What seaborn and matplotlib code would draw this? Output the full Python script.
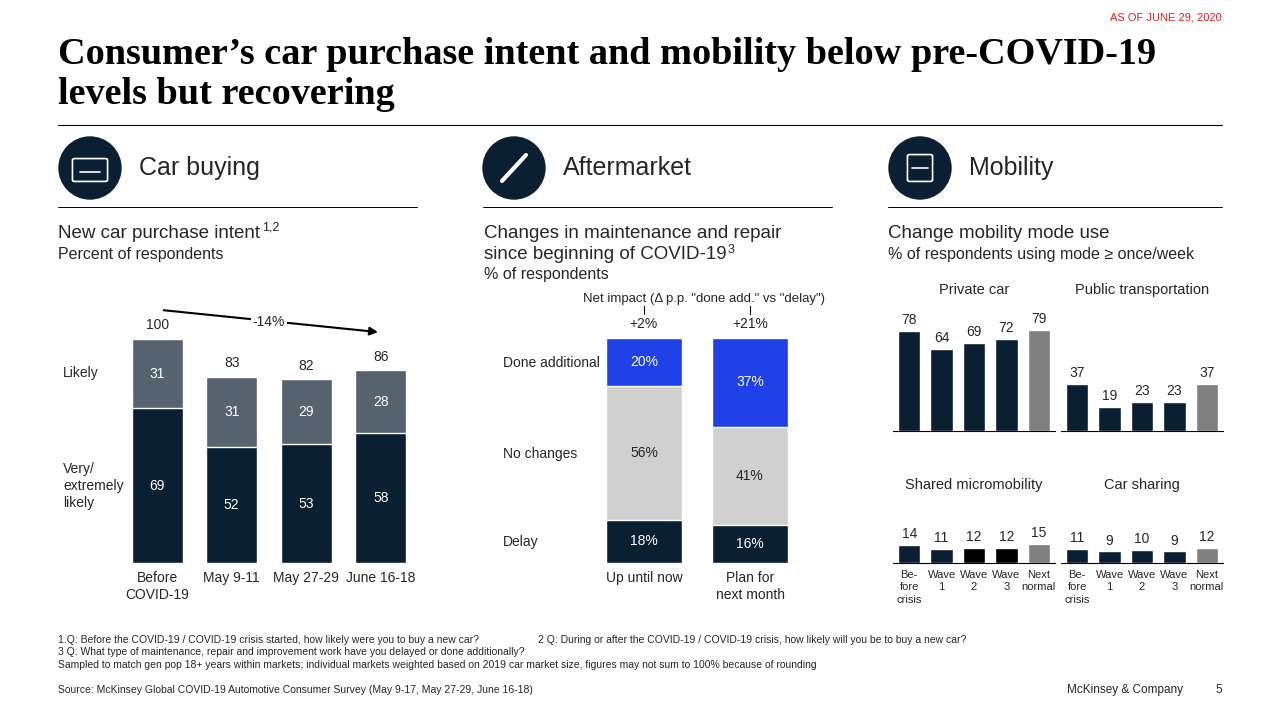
import matplotlib.pyplot as plt
import matplotlib.patches as mpatches
import seaborn as sns
import pandas as pd

# ---- data ----
buy_periods = ["Before\nCOVID-19", "May 9-11", "May 27-29", "June 16-18"]
buy_very_likely = [69, 52, 53, 58]
buy_likely = [31, 31, 29, 28]
buy_total = [100, 83, 82, 86]

am_periods = ["Up until now", "Plan for\nnext month"]
am_delay = [18, 16]
am_no_change = [56, 41]
am_done_add = [20, 37]
am_net = ["+2%", "+21%"]

mob_waves = ["Be-\nfore\ncrisis", "Wave\n1", "Wave\n2", "Wave\n3", "Next\nnormal"]
private_car = [78, 64, 69, 72, 79]
public_transport = [37, 19, 23, 23, 37]
micromobility = [14, 11, 12, 12, 15]
car_sharing = [11, 9, 10, 9, 12]

NAVY = "#0b1f33"
SLATE = "#56626e"
BLUE = "#1f40e6"
LIGHT = "#d0d0d0"
NEXT = "#808080"

sns.set_theme(style="white")
plt.rcParams["font.family"] = ["Liberation Sans", "DejaVu Sans"]

fig = plt.figure(figsize=(12.8, 7.2), dpi=100)
W, H = 1280, 720


def ax_px(l, t, r, b):
    ax = fig.add_axes([l / W, 1 - b / H, (r - l) / W, (b - t) / H])
    ax.set_facecolor("none")
    return ax


def ftext(x, y, s, **kw):
    fig.text(x / W, 1 - y / H, s, **kw)


def hline(x0, x1, y, color="black", lw=0.8):
    fig.add_artist(plt.Line2D([x0 / W, x1 / W], [1 - y / H, 1 - y / H], color=color, lw=lw))


def clean(ax, bottom=True):
    for s in ["top", "right", "left"]:
        ax.spines[s].set_visible(False)
    ax.spines["bottom"].set_visible(bottom)
    ax.spines["bottom"].set_color("black")
    ax.spines["bottom"].set_linewidth(0.8)
    ax.set_yticks([])
    ax.set_xlabel("")
    ax.set_ylabel("")


# ---- header ----
ftext(1222, 17, "AS OF JUNE 29, 2020", ha="right", va="center", fontsize=8, color="#e0201b")
ftext(58, 54, "Consumer’s car purchase intent and mobility below pre-COVID-19", fontsize=27.5,
      fontweight="bold", family="Liberation Serif", va="center", color="black")
ftext(58, 95, "levels but recovering", fontsize=27.5, fontweight="bold", family="Liberation Serif",
      va="center", color="black")
hline(58, 1222, 125)

for cx, label in [(90, "Car buying"), (514, "Aftermarket"), (920, "Mobility")]:
    fig.add_artist(mpatches.Ellipse((cx / W, 1 - 168 / H), 62 / W, 62 / H, color=NAVY,
                                    transform=fig.transFigure))
    ftext(cx + 49, 168, label, fontsize=18, va="center")
for x0, x1 in [(58, 417), (483, 832), (888, 1222)]:
    hline(x0, x1, 207, lw=0.7)

# simple icon glyphs drawn as shapes
fig.add_artist(mpatches.FancyBboxPatch((75 / W, 1 - 180 / H), 30 / W, 20 / H, boxstyle="round,pad=0.002",
                                       fill=False, ec="white", lw=1.2, transform=fig.transFigure))
fig.add_artist(plt.Line2D([80 / W, 100 / W], [1 - 172 / H, 1 - 172 / H], color="white", lw=1.2))
fig.add_artist(plt.Line2D([502 / W, 526 / W], [1 - 181 / H, 1 - 155 / H], color="white", lw=3))
fig.add_artist(mpatches.FancyBboxPatch((910 / W, 1 - 180 / H), 20 / W, 24 / H, boxstyle="round,pad=0.002",
                                       fill=False, ec="white", lw=1.2, transform=fig.transFigure))
fig.add_artist(plt.Line2D([912 / W, 928 / W], [1 - 168 / H, 1 - 168 / H], color="white", lw=1.2))

# ---- Car buying ----
ftext(58, 233, "New car purchase intent", fontsize=13.5, va="center")
ftext(262, 228, "1,2", fontsize=9, va="center")
ftext(58, 254, "Percent of respondents", fontsize=11.5, va="center")

ax = ax_px(120, 301, 418, 563)
df = pd.DataFrame({"p": buy_periods, "total": buy_total, "vl": buy_very_likely})
sns.barplot(data=df, x="p", y="total", color=SLATE, width=0.68, saturation=1, ax=ax)
sns.barplot(data=df, x="p", y="vl", color=NAVY, width=0.68, saturation=1, ax=ax)
ax.set_ylim(0, 117)
ax.set_xlim(-0.5, 3.5)
clean(ax, bottom=False)
ax.tick_params(axis="x", length=0, labelsize=10, pad=6)
for i in range(4):
    ax.text(i, buy_very_likely[i] / 2, str(buy_very_likely[i]), ha="center", va="center", color="white", fontsize=10)
    ax.text(i, buy_very_likely[i] + buy_likely[i] / 2, str(buy_likely[i]), ha="center", va="center",
            color="white", fontsize=10)
    ax.text(i, buy_total[i] + 3, str(buy_total[i]), ha="center", va="bottom", fontsize=10)
ax.annotate("", xy=(3.0, 103), xytext=(0.05, 113),
            arrowprops=dict(arrowstyle="-|>", color="black", lw=1.5))
ax.text(1.5, 107.5, "-14%", ha="center", va="center", fontsize=10,
        bbox=dict(fc="white", ec="none", pad=1))
ftext(63, 373, "Likely", fontsize=10, va="center")
ftext(63, 486, "Very/\nextremely\nlikely", fontsize=10, va="center", linespacing=1.3)

# ---- Aftermarket ----
ftext(484, 233, "Changes in maintenance and repair", fontsize=13.5, va="center")
ftext(484, 254, "since beginning of COVID-19", fontsize=13.5, va="center")
ftext(728, 250, "3", fontsize=9, va="center")
ftext(484, 275, "% of respondents", fontsize=11.5, va="center")
ftext(704, 299, 'Net impact (Δ p.p. "done add." vs "delay")', fontsize=9.5, ha="center", va="center")

ax = ax_px(591, 300, 803, 563)
da = pd.DataFrame({"p": am_periods,
                   "top": [a + b + c for a, b, c in zip(am_delay, am_no_change, am_done_add)],
                   "mid": [a + b for a, b in zip(am_delay, am_no_change)],
                   "low": am_delay})
sns.barplot(data=da, x="p", y="top", color=BLUE, width=0.71, saturation=1, ax=ax)
sns.barplot(data=da, x="p", y="mid", color=LIGHT, width=0.71, saturation=1, ax=ax)
sns.barplot(data=da, x="p", y="low", color=NAVY, width=0.71, saturation=1, ax=ax)
ax.set_ylim(0, 110)
ax.set_xlim(-0.5, 1.5)
clean(ax, bottom=False)
ax.tick_params(axis="x", length=0, labelsize=10, pad=6)
for i in range(2):
    ax.text(i, am_delay[i] / 2, f"{am_delay[i]}%", ha="center", va="center", color="white", fontsize=10)
    ax.text(i, am_delay[i] + am_no_change[i] / 2, f"{am_no_change[i]}%", ha="center", va="center", fontsize=10)
    ax.text(i, am_delay[i] + am_no_change[i] + am_done_add[i] / 2, f"{am_done_add[i]}%", ha="center",
            va="center", color="white", fontsize=10)
    ax.text(i, 97, am_net[i], ha="center", va="bottom", fontsize=10)
    ax.plot([i, i], [104, 107.5], color="black", lw=0.8)
ftext(503, 363, "Done additional", fontsize=10, va="center")
ftext(503, 454, "No changes", fontsize=10, va="center")
ftext(503, 542, "Delay", fontsize=10, va="center")

# ---- Mobility ----
ftext(888, 233, "Change mobility mode use", fontsize=13.5, va="center")
ftext(888, 254, "% of respondents using mode ≥ once/week", fontsize=11.5, va="center")

panels = [
    ("Private car", private_car, 893, 1055, 431, [NAVY] * 4 + [NEXT]),
    ("Public transportation", public_transport, 1061, 1223, 431, [NAVY] * 4 + [NEXT]),
    ("Shared micromobility", micromobility, 893, 1055, 563, [NAVY, NAVY, "#000000", "#000000", NEXT]),
    ("Car sharing", car_sharing, 1061, 1223, 563, [NAVY] * 4 + [NEXT]),
]
for title, vals, l, r, base, cols in panels:
    top = base - 130
    ax = ax_px(l, top, r, base)
    dm = pd.DataFrame({"w": mob_waves, "v": vals})
    sns.barplot(data=dm, x="w", y="v", hue="w", palette=cols, legend=False, width=0.69,
                saturation=1, ax=ax)
    ax.set_ylim(0, 130 / 1.28)
    ax.set_xlim(-0.5, 4.5)
    clean(ax)
    for i, v in enumerate(vals):
        ax.text(i, v + 3, str(v), ha="center", va="bottom", fontsize=10)
    if base == 563:
        ax.tick_params(axis="x", length=0, labelsize=8, pad=5)
        for t in ax.get_xticklabels():
            t.set_linespacing(1.3)
    else:
        ax.set_xticklabels([])
        ax.tick_params(axis="x", length=0)
    ty = 290 if base == 431 else 485
    ftext((l + r) / 2, ty, title, fontsize=10.5, ha="center", va="center")

# ---- footnotes ----
ftext(58, 640, "1.Q: Before the COVID-19 / COVID-19 crisis started, how likely were you to buy a new car?",
      fontsize=7.5, va="center")
ftext(538, 640, "2 Q: During or after the COVID-19 / COVID-19 crisis, how likely will you be to buy a new car?",
      fontsize=7.5, va="center")
ftext(58, 652, "3 Q: What type of maintenance, repair and improvement work have you delayed or done additionally?",
      fontsize=7.5, va="center")
ftext(58, 665, "Sampled to match gen pop 18+ years within markets; individual markets weighted based on 2019 car "
      "market size, figures may not sum to 100% because of rounding", fontsize=7.5, va="center")
ftext(58, 690, "Source: McKinsey Global COVID-19 Automotive Consumer Survey (May 9-17, May 27-29, June 16-18)",
      fontsize=7.5, va="center")
ftext(1183, 690, "McKinsey & Company", fontsize=8.5, ha="right", va="center")
ftext(1222, 690, "5", fontsize=8.5, ha="right", va="center")

fig.savefig("out.png", dpi=100)
